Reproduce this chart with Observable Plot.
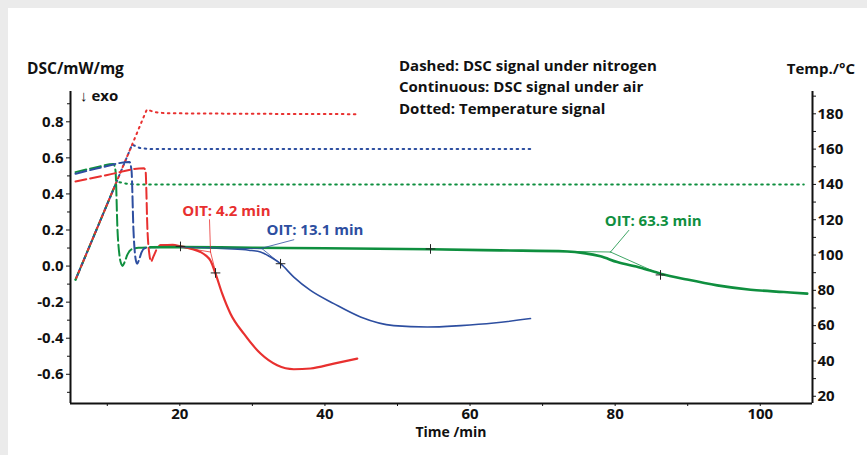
<!DOCTYPE html>
<html><head><meta charset="utf-8">
<script src="https://cdn.jsdelivr.net/npm/d3@7"></script>
<script src="https://cdn.jsdelivr.net/npm/@observablehq/plot@0.6"></script>
<style>
html,body{margin:0;padding:0;background:#ebebeb;}
#panel{position:absolute;left:8px;top:8px;width:859px;height:447px;background:#fff;overflow:hidden;}
</style></head><body><div id="panel"></div>
<script>
// ---------- data ----------
const xTicks = [20, 40, 60, 80, 100];
const xMinor = [10, 30, 50, 70, 90];
const yTicks = [-0.6, -0.4, -0.2, 0.0, 0.2, 0.4, 0.6, 0.8];
const yMinor = [-0.7, -0.5, -0.3, -0.1, 0.1, 0.3, 0.5, 0.7, 0.9];
const tTicks = [20, 40, 60, 80, 100, 120, 140, 160, 180];
const tMinor = [30, 50, 70, 90, 110, 130, 150, 170, 190];

// DSC under nitrogen (dashed) [time min, DSC mW/mg]
const redN2 = [[5.62,0.469],[10,0.505],[15.03,0.543],[15.27,0.530],[15.54,0.197],[15.82,0.059],[16.03,0.026],[16.37,0.054],[16.88,0.098],[17.33,0.115],[18.71,0.115],[19.3,0.113]];
const blueN2 = [[5.62,0.512],[9,0.545],[13.06,0.577],[13.34,0.530],[13.61,0.198],[13.89,0.043],[14.12,0.013],[14.44,0.043],[14.72,0.076],[15.13,0.098],[15.96,0.104],[17.33,0.106]];
const greenN2 = [[5.62,0.521],[8.38,0.547],[10.86,0.566],[11.13,0.530],[11.41,0.198],[11.68,0.059],[11.96,0.009],[12.1,0.001],[12.37,0.020],[12.79,0.065],[13.34,0.093],[14.3,0.101],[15.96,0.104]];

// DSC under air (continuous)
const redAir = [[17.33,0.115],[19.0,0.118],[20.09,0.110],[21.5,0.097],[22.85,0.078],[23.6,0.058],[24.23,0.030],[24.92,-0.042],[25.84,-0.153],[26.98,-0.264],[28.82,-0.375],[31.12,-0.485],[33.42,-0.550],[35.71,-0.572],[38.01,-0.568],[41.22,-0.541],[44.45,-0.513]];
const blueAir = [[17.33,0.106],[20.09,0.105],[26.53,0.096],[29.5,0.088],[31.12,0.078],[32.5,0.050],[33.88,0.013],[35.71,-0.061],[38.01,-0.135],[41.22,-0.208],[44.9,-0.282],[49.49,-0.330],[54.1,-0.338],[58.69,-0.330],[63.28,-0.316],[68.33,-0.291]];
const greenAir = [[15.96,0.104],[20.09,0.105],[30,0.102],[40,0.099],[54.55,0.093],[64.2,0.087],[73.39,0.081],[75.68,0.072],[77.98,0.054],[80.29,0.022],[83.5,-0.009],[86.25,-0.042],[89.93,-0.075],[94.07,-0.107],[98.66,-0.131],[103.25,-0.144],[106.47,-0.153]];

// Temperature signals (dotted) [time min, °C]
const redTemp = [[5.62,86],[15.2,180],[15.45,182.4],[16.5,181],[18,180.3],[30,180],[44.2,179.8]];
const blueTemp = [[5.62,86],[13.17,160],[13.4,162.6],[14.5,160.6],[16,160],[68.3,160]];
const greenTemp = [[5.62,86],[11.13,140],[11.6,141.3],[12.8,140.3],[14,140],[106,140]];
const greenTempN2 = [[5.62,86],[11.13,140]];

// OIT construction lines
const redBase = [[20.09,0.105],[24.23,0.078]];
const redTan = [[24.23,0.078],[25.05,-0.052]];
const redLead = [[24.09,0.257],[24.23,0.078]];
const blueBase = [[20.09,0.105],[31.35,0.096]];
const blueTan = [[31.35,0.096],[34.15,0.004]];
const blueLead = [[31.35,0.0997],[35.71,0.146]];
const greenBase = [[54.55,0.093],[79.36,0.078]];
const greenTan = [[79.36,0.078],[86.53,-0.051]];
const greenLead = [[79.36,0.078],[81.88,0.198]];
const crosses = [[20.09,0.109],[24.92,-0.038],[33.88,0.013],[54.55,0.095],[86.25,-0.049]];
const oitLabels = [
  {t:20.33, d:0.303, text:"OIT: 4.2 min", c:"red"},
  {t:31.95, d:0.198, text:"OIT: 13.1 min", c:"blue"},
  {t:78.58, d:0.248, text:"OIT: 63.3 min", c:"green"}
];
const legendLines = ["Dashed: DSC signal under nitrogen","Continuous: DSC signal under air","Dotted: Temperature signal"];

// ---------- helpers ----------
const RED = "#e8302f", BLUE = "#2d4ea0", GREEN = "#0f8f3f";
const col = {red:RED, blue:BLUE, green:GREEN};
const toD = T => (1.7669*T - 165.64)/180.5;
const fromD = d => (d*180.5 + 165.64)/1.7669;
const X = d => d[0], Y = d => d[1];
const tempLine = (arr, c, extra={}) => Plot.line(arr.map(p => [p[0], toD(p[1])]), {x:X, y:Y, stroke:c, strokeWidth:2, strokeDasharray:"1.6,4.4", curve:"linear", ...extra});
const dashed = (arr, c) => Plot.line(arr, {x:X, y:Y, stroke:c, strokeWidth:2, strokeDasharray:"11,4", curve:"monotone-x"});
const solid = (arr, c, w) => Plot.line(arr, {x:X, y:Y, stroke:c, strokeWidth:w, curve:"monotone-x"});
const thin = (arr, c) => Plot.line(arr, {x:X, y:Y, stroke:c, strokeWidth:0.8});

const XMIN = 4.93, XMAX = 107.2, YMIN = -0.762, YMAX = 0.968;

const chart = Plot.plot({
  width: 859, height: 447,
  marginLeft: 62, marginRight: 55, marginTop: 83, marginBottom: 52,
  x: {domain:[XMIN, XMAX]},
  y: {domain:[YMIN, YMAX]},
  style: {fontFamily:"'Open Sans', sans-serif", fontSize:"15px", fontWeight:"bold", color:"#111", background:"#fff"},
  marks: [
    Plot.line(greenTempN2.map(p => [p[0], toD(p[1])]), {x:X, y:Y, stroke:GREEN, strokeWidth:2, strokeDasharray:"11,4"}),
    tempLine(greenTemp, GREEN),
    tempLine(blueTemp, BLUE, {strokeDashoffset:2}),
    tempLine(redTemp, RED, {strokeDashoffset:4}),
    dashed(greenN2, GREEN),
    dashed(blueN2, BLUE),
    dashed(redN2, RED),
    solid(blueAir, BLUE, 1.6),
    solid(redAir, RED, 2.2),
    solid(greenAir, GREEN, 2.6),
    thin(redBase, RED), thin(redTan, RED), thin(redLead, RED),
    thin(blueBase, BLUE), thin(blueTan, BLUE), thin(blueLead, BLUE),
    thin(greenBase, GREEN), thin(greenTan, GREEN), thin(greenLead, GREEN),
    Plot.dot(crosses, {x:X, y:Y, symbol:"plus", r:3.2, stroke:"#222", strokeWidth:1}),
    Plot.text(oitLabels, {x:"t", y:"d", text:"text", fill:d => col[d.c], textAnchor:"start", fontSize:15, fontWeight:"bold"}),
    // axes
    Plot.axisY(yMinor, {anchor:"left", label:null, tickSize:3, tickFormat:() => "", stroke:"#111"}),
    Plot.axisY(yTicks, {anchor:"left", label:null, tickSize:4, tickPadding:3, tickFormat:d => d.toFixed(1), stroke:"#111", fill:"#111"}),
    Plot.axisY(tMinor.map(toD), {anchor:"right", label:null, tickSize:3, tickFormat:() => "", stroke:"#111"}),
    Plot.axisY(tTicks.map(toD), {anchor:"right", label:null, tickSize:3, tickPadding:2, tickFormat:d => String(Math.round(fromD(d))), stroke:"#111", fill:"#111"}),
    Plot.axisX(xMinor, {anchor:"bottom", label:null, tickSize:3, tickFormat:() => "", stroke:"#111"}),
    Plot.axisX(xTicks, {anchor:"bottom", label:null, tickSize:3, tickPadding:2, tickFormat:d => String(d), stroke:"#111", fill:"#111"}),
    Plot.ruleX([XMIN], {stroke:"#111", strokeWidth:2}),
    Plot.ruleX([XMAX], {stroke:"#111", strokeWidth:2}),
    Plot.ruleY([YMIN], {stroke:"#111", strokeWidth:2, x1:XMIN, x2:XMAX})
  ]
});

document.getElementById("panel").appendChild(chart);

const svg = d3.select(chart);
const addText = (x, y, s, opts={}) => svg.append("text").attr("x", x).attr("y", y)
  .attr("font-family", "'Open Sans', sans-serif").attr("font-weight", "bold")
  .attr("font-size", opts.size || 15).attr("fill", "#111")
  .attr("text-anchor", opts.anchor || "start").text(s);
addText(19, 66, "DSC/mW/mg", {size:15.5});
addText(847, 66, "Temp./°C", {anchor:"end"});
addText(72, 93, "↓ exo");
legendLines.forEach((s, i) => addText(391, 62.7 + i*21.7, s, {size:15}));
addText(443, 429, "Time /min", {anchor:"middle", size:14});
</script></body></html>
